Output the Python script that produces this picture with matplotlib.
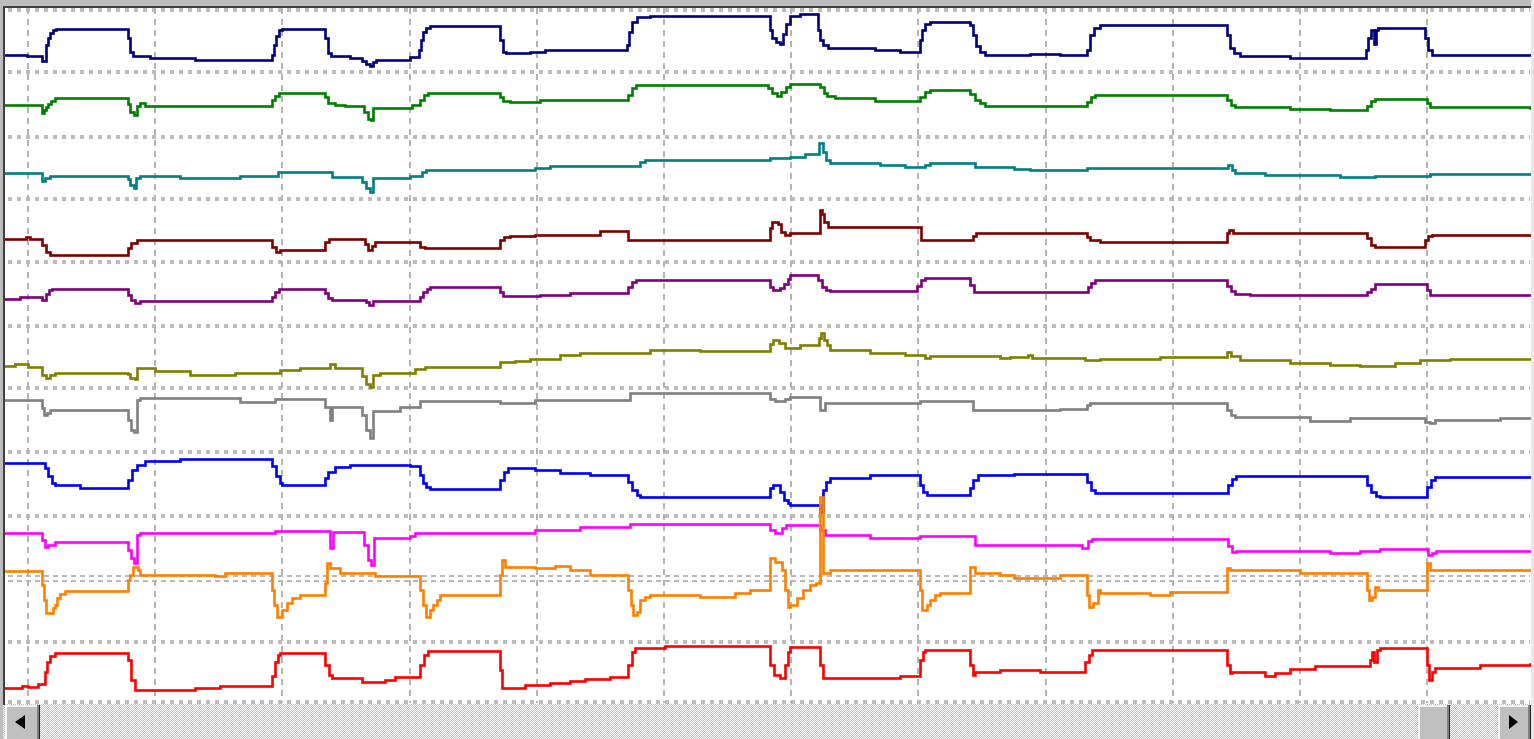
import numpy as np
import matplotlib
matplotlib.use("Agg")
import matplotlib.pyplot as plt
from matplotlib.patches import Rectangle, Polygon

# ---------------- data: 11 channel traces (time, display value) ----------------
navy = [(5,55),(27,56),(42,61),(46,45),(48,38),(50,33),(53,30),(56,29),(128,38),(130,52),(133,56),
        (150,58),(195,60),(272,55),(274,45),(276,36),(279,30),(282,29),(325,38),(328,53),(331,56),
        (350,58),(362,61),(366,64),(370,66),(373,62),(376,60),(410,57),(419,50),(421,40),(423,32),
        (426,28),(430,26),(500,40),(503,52),(506,53),(530,52),(545,50),(627,45),(629,32),(632,22),
        (637,17),(650,16),(770,30),(772,38),(776,42),(780,44),(783,34),(786,24),(790,16),(800,14),
        (818,30),(820,40),(823,45),(828,48),(875,50),(900,52),(920,40),(922,30),(925,24),(930,22),
        (970,25),(973,35),(976,46),(980,52),(985,55),(1030,54),(1060,55),(1087,50),(1090,35),
        (1094,28),(1100,25),(1227,35),(1230,48),(1234,53),(1240,56),(1290,58),(1366,50),(1368,38),
        (1371,30),(1374,44),(1376,30),(1378,28),(1425,38),(1428,50),(1432,55),(1530,55)]
green = [(5,105),(42,113),(44,110),(46,107),(48,104),(51,101),(55,98),(128,104),(130,112),(134,115),
         (137,106),(140,103),(145,106),(272,100),(275,96),(279,93),(325,97),(328,103),(335,105),
         (345,106),(364,112),(368,119),(371,120),(373,108),(412,105),(420,100),(424,95),(428,93),
         (500,97),(503,101),(510,102),(540,100),(628,95),(632,88),(636,85),(768,88),(772,93),
         (777,96),(781,92),(786,87),(790,84),(820,87),(824,93),(827,96),(835,98),(875,101),(920,97),
         (925,92),(930,90),(970,94),(975,100),(980,103),(985,106),(1087,102),(1091,97),(1095,95),
         (1227,100),(1231,105),(1235,107),(1290,109),(1330,110),(1367,106),(1371,101),(1375,99),
         (1427,103),(1430,107),(1530,108)]
teal = [(5,173),(42,181),(45,178),(50,176),(128,179),(130,185),(134,188),(136,178),(140,176),
        (180,178),(240,176),(278,172),(332,177),(362,182),(366,188),(370,192),(373,178),(410,176),
        (422,172),(426,170),(500,170),(535,168),(550,166),(640,162),(645,160),(770,158),(790,157),
        (805,154),(819,143),(823,152),(826,160),(830,163),(880,165),(905,167),(925,165),(930,163),
        (975,167),(1014,169),(1030,170),(1087,168),(1228,165),(1232,170),(1235,173),(1265,175),
        (1340,177),(1375,176),(1430,174),(1530,174)]
maroon = [(5,239),(26,237),(30,239),(42,245),(46,252),(50,255),(128,248),(131,243),(137,240),
          (272,247),(276,252),(280,250),(325,242),(329,239),(365,244),(368,250),(372,246),(375,242),
          (420,247),(425,248),(500,240),(504,237),(510,236),(535,235),(600,231),(628,240),(770,228),
          (772,222),(778,224),(781,232),(785,235),(790,233),(820,210),(822,214),(824,222),(828,227),
          (921,240),(973,236),(976,233),(1087,237),(1090,240),(1100,242),(1227,233),(1229,230),
          (1233,233),(1367,238),(1371,245),(1375,247),(1425,240),(1428,236),(1432,235),(1530,235)]
purple = [(5,299),(20,297),(42,300),(46,294),(49,290),(52,289),(128,295),(131,300),(135,303),
          (140,301),(272,297),(275,292),(279,289),(325,293),(328,298),(332,300),(366,302),(369,305),
          (373,301),(420,297),(423,292),(427,289),(430,287),(500,292),(503,296),(540,295),(570,293),
          (628,287),(632,282),(636,280),(770,287),(773,290),(780,288),(784,284),(788,279),(790,275),
          (818,280),(822,287),(826,290),(830,291),(917,286),(921,280),(925,278),(970,285),(974,292),
          (1088,287),(1091,283),(1095,280),(1227,286),(1231,291),(1235,294),(1250,295),(1367,292),
          (1371,289),(1375,284),(1427,290),(1430,295),(1530,295)]
olive = [(5,366),(15,364),(28,367),(42,375),(46,378),(50,375),(55,373),(128,374),(130,378),(135,379),
         (137,368),(155,371),(190,375),(235,373),(280,370),(300,368),(330,364),(335,368),(362,376),
         (366,384),(370,387),(373,375),(380,373),(415,369),(425,367),(500,362),(515,361),(530,359),
         (560,355),(580,353),(650,350),(700,351),(770,344),(773,340),(779,343),(785,348),(800,345),
         (819,338),(821,333),(824,340),(827,345),(830,350),(870,353),(905,355),(925,358),(930,356),
         (1000,358),(1010,357),(1028,355),(1032,358),(1085,360),(1100,359),(1160,357),(1227,352),
         (1231,356),(1240,360),(1290,363),(1330,365),(1360,366),(1395,363),(1420,360),(1450,359),
         (1530,359)]
gray = [(5,400),(42,408),(44,415),(47,413),(50,410),(128,420),(131,430),(134,432),(137,400),(140,398),
        (240,402),(275,399),(325,407),(330,420),(332,407),(362,415),(366,430),(370,438),(373,411),
        (400,407),(420,401),(500,403),(535,400),(630,393),(770,399),(775,401),(785,399),(790,397),
        (820,410),(825,403),(920,401),(973,410),(1060,409),(1087,405),(1090,403),(1227,410),
        (1231,415),(1235,417),(1310,421),(1350,418),(1425,422),(1430,423),(1435,420),(1500,418),
        (1530,418)]
blue = [(5,463),(45,468),(48,476),(52,483),(55,485),(80,488),(128,480),(132,470),(137,465),(145,461),
        (180,459),(272,466),(276,476),(280,483),(282,485),(325,478),(328,472),(335,467),(350,465),
        (410,466),(420,475),(423,483),(426,487),(430,489),(500,480),(504,472),(508,468),(535,470),
        (560,473),(590,475),(628,482),(632,490),(637,495),(640,497),(770,488),(773,485),(780,492),
        (784,500),(788,503),(790,505),(820,512),(823,490),(826,482),(830,478),(870,475),(920,485),
        (923,492),(927,495),(970,488),(973,480),(978,475),(1014,474),(1087,482),(1091,490),
        (1095,493),(1228,485),(1232,479),(1236,476),(1367,485),(1371,492),(1376,496),(1380,497),
        (1427,487),(1431,480),(1435,477),(1530,477)]
magenta = [(5,533),(42,540),(45,547),(48,545),(55,542),(128,550),(131,558),(134,563),(137,535),
           (140,533),(275,531),(330,548),(333,532),(364,545),(368,560),(371,565),(374,538),(410,536),
           (415,533),(535,530),(580,527),(630,524),(770,530),(775,533),(782,528),(786,525),(820,530),
           (825,535),(870,538),(920,536),(975,545),(1082,548),(1088,541),(1092,539),(1228,546),
           (1232,552),(1236,551),(1330,553),(1360,551),(1380,549),(1428,555),(1432,553),(1436,551),
           (1530,551)]
orange = [(5,571),(42,585),(44,600),(46,613),(53,608),(55,605),(57,598),(60,594),(65,591),(128,580),
          (130,575),(133,567),(138,570),(140,575),(215,576),(225,573),(272,590),(274,605),(277,617),
          (282,610),(287,603),(292,598),(300,595),(325,583),(327,563),(330,568),(340,573),(375,576),
          (420,590),(423,605),(426,617),(430,610),(433,605),(437,600),(440,595),(500,575),(502,560),
          (505,567),(535,568),(555,566),(570,570),(590,575),(628,590),(631,605),(633,615),(637,612),
          (640,600),(645,597),(650,595),(700,597),(735,593),(750,590),(770,558),(775,562),(782,570),
          (785,590),(788,607),(790,605),(797,598),(803,590),(810,585),(816,583),(820,497),(823,573),
          (830,570),(920,590),(922,610),(927,605),(930,600),(935,595),(940,593),(970,567),(975,573),
          (1000,575),(1014,578),(1060,575),(1087,595),(1089,607),(1093,603),(1098,590),(1100,593),
          (1150,595),(1170,592),(1227,568),(1230,570),(1300,573),(1367,590),(1369,600),(1372,597),
          (1375,587),(1378,590),(1427,563),(1430,570),(1530,570)]
red = [(5,688),(22,686),(28,687),(38,684),(45,672),(47,662),(50,656),(55,653),(128,660),(131,680),
       (135,690),(195,688),(220,686),(272,676),(275,662),(278,655),(280,653),(325,665),(329,675),
       (332,678),(362,682),(385,680),(395,677),(420,665),(424,655),(428,651),(500,670),(502,688),
       (525,685),(550,683),(570,681),(585,679),(610,677),(628,665),(632,652),(635,648),(665,646),
       (770,665),(774,675),(780,678),(785,665),(788,652),(790,647),(820,665),(823,678),(900,676),
       (920,660),(923,652),(925,650),(970,665),(973,675),(975,672),(1000,670),(1040,672),(1085,662),
       (1089,655),(1092,650),(1227,665),(1230,673),(1232,672),(1265,676),(1275,673),(1290,669),
       (1315,666),(1370,660),(1372,652),(1374,662),(1377,650),(1380,648),(1427,665),(1429,680),
       (1432,672),(1435,668),(1480,665),(1530,664)]

channels = [navy, green, teal, maroon, purple, olive, gray, blue, magenta, orange, red]
colors = ["#000080", "#008000", "#008080", "#800000", "#800080", "#808000",
          "#808080", "#0000ff", "#ff00ff", "#ff8000", "#ff0000"]

# ---------------- figure ----------------
W, H = 1534, 739
fig = plt.figure(figsize=(W / 100, H / 100), dpi=100)
ax = fig.add_axes([0, 0, 1, 1])
ax.set_xlim(0, W)
ax.set_ylim(H, 0)
ax.axis("off")
ax.add_patch(Rectangle((0, 0), W, H, facecolor="white", edgecolor="none", zorder=0))

# grid
h_rows = [10, 72, 137, 199, 262, 326, 388, 452, 516, 642, 702]
v_cols = np.arange(28, 1530, 127.2)
ax.hlines(h_rows, 8, 1530, colors="#bcbcbc", lw=2.6, linestyles=(0, (1, 1.4)), zorder=1,
          antialiased=False)
ax.hlines([576, 581], 8, 1530, colors="#b8b8b8", lw=1.2, linestyles=(0, (3, 3)), zorder=1,
          antialiased=False)
ax.vlines(v_cols, 8, 703, colors="#b4b4b4", lw=1.3, linestyles=(0, (3, 3.2)), zorder=1,
          antialiased=False)

# traces
for data, c in zip(channels, colors):
    xs = [p[0] for p in data]
    ys = [p[1] for p in data]
    ax.step(xs, ys, where="post", color=c, lw=1.9, zorder=3, solid_joinstyle="miter")

# frame: top and left borders
ax.add_patch(Rectangle((0, 0), W, 6, facecolor="#bdbdbd", edgecolor="none", zorder=5))
ax.add_patch(Rectangle((0, 6), W, 2, facecolor="#404040", edgecolor="none", zorder=5))
ax.add_patch(Rectangle((0, 0), 3, H, facecolor="#bdbdbd", edgecolor="none", zorder=5))
ax.add_patch(Rectangle((3, 6), 2, 699, facecolor="#404040", edgecolor="none", zorder=5))
ax.add_patch(Rectangle((1531, 0), 3, H, facecolor="#e8e8e8", edgecolor="none", zorder=5))

# scrollbar track (dithered)
sb_h = H - 704
yy, xx = np.mgrid[0:sb_h, 0:W]
checker = ((xx + yy) % 2).astype(float)
track = np.where(checker[..., None] > 0, np.array([0.78, 0.78, 0.78]), np.array([0.97, 0.97, 0.97]))
ax.imshow(track, extent=(0, W, H, 704), interpolation="nearest", zorder=4, aspect="auto")


def button(x0, x1, y0, y1, z=6):
    ax.add_patch(Rectangle((x0, y0), x1 - x0, y1 - y0, facecolor="#c0c0c0", edgecolor="none", zorder=z))
    ax.add_patch(Rectangle((x0, y0), x1 - x0, 1.5, facecolor="#f4f4f4", edgecolor="none", zorder=z))
    ax.add_patch(Rectangle((x0, y0), 1.5, y1 - y0, facecolor="#f4f4f4", edgecolor="none", zorder=z))
    ax.add_patch(Rectangle((x1 - 3, y0), 1.5, y1 - y0, facecolor="#808080", edgecolor="none", zorder=z))
    ax.add_patch(Rectangle((x1 - 1.5, y0), 1.5, y1 - y0, facecolor="#202020", edgecolor="none", zorder=z))


button(5, 40, 705, H)
button(1418, 1450, 705, H)
button(1498, 1531, 705, H)
ax.add_patch(Polygon([(15, 722), (25, 715), (25, 729)], closed=True, facecolor="black", edgecolor="none", zorder=7))
ax.add_patch(Polygon([(1518, 722), (1509, 715), (1509, 729)], closed=True, facecolor="black", edgecolor="none", zorder=7))

fig.savefig("out.png", dpi=100)
